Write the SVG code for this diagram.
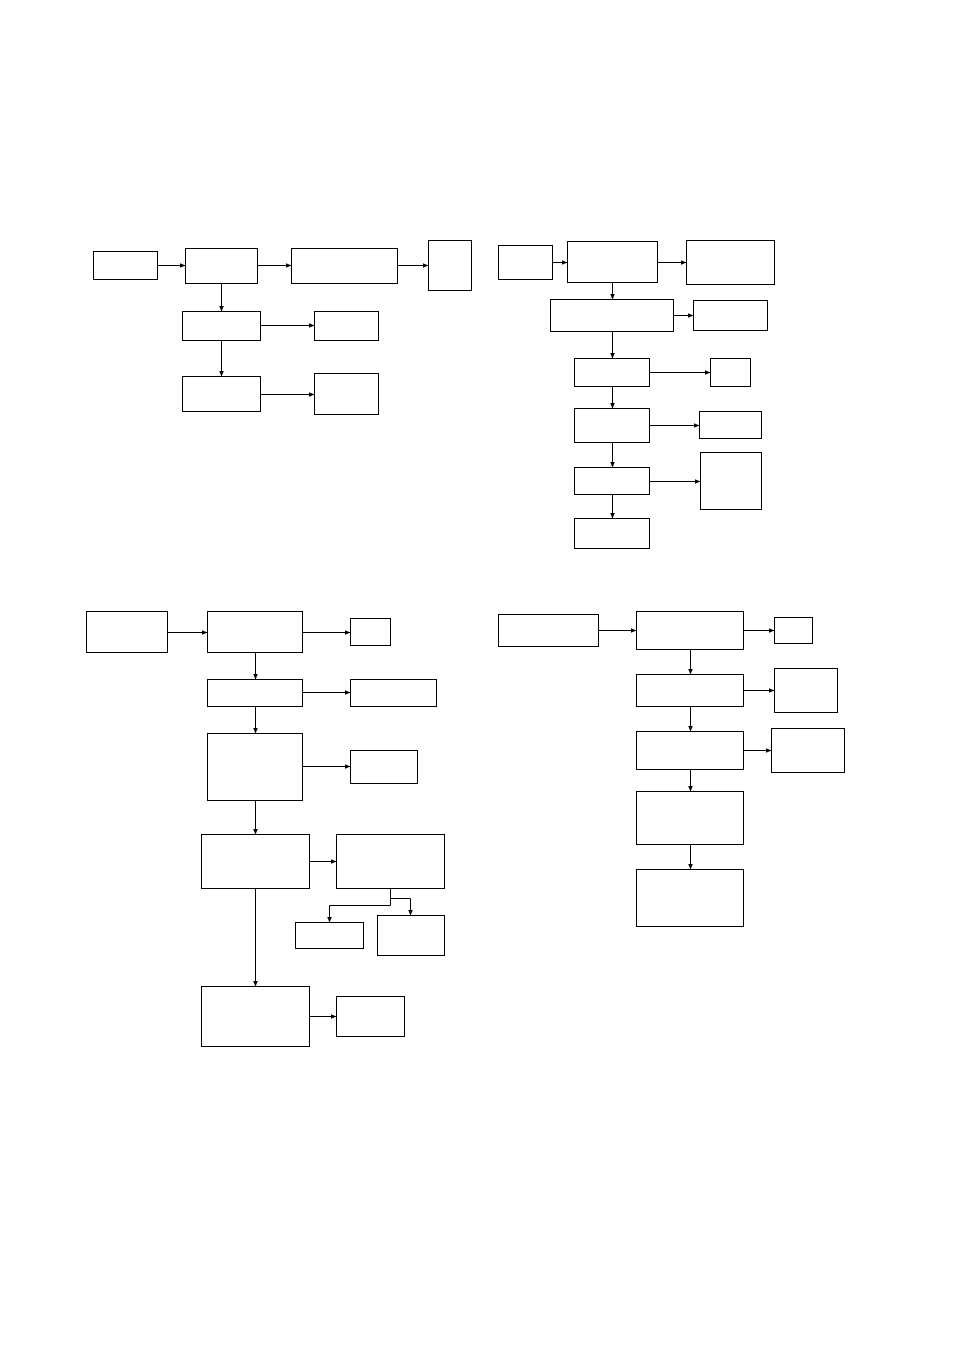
<svg xmlns="http://www.w3.org/2000/svg" width="954" height="1351" viewBox="0 0 954 1351">
<style>
.box{fill:#fff;stroke:#000;stroke-width:1}
.edge{fill:none;stroke:#000;stroke-width:1;marker-end:url(#ah)}
.seg{fill:none;stroke:#000;stroke-width:1}
</style>
<defs>
<marker id="ah" markerUnits="userSpaceOnUse" markerWidth="7" markerHeight="6" refX="6" refY="2.5" orient="auto">
<path d="M0,0 L6,2.5 L0,5 z" fill="#000"/>
</marker>
</defs>
<rect width="954" height="1351" fill="#fff"/>
<g id="connectors">
<!-- diagram 1 -->
<path class="edge" d="M157.5,265.5 H185.5"/>
<path class="edge" d="M257.5,265.5 H291.5"/>
<path class="edge" d="M397.5,265.5 H428.5"/>
<path class="edge" d="M221.5,283.5 V311.5"/>
<path class="edge" d="M260.5,325.5 H314.5"/>
<path class="edge" d="M221.5,340.5 V376.5"/>
<path class="edge" d="M260.5,394.5 H314.5"/>
<!-- diagram 2 -->
<path class="edge" d="M552.5,262.5 H567.5"/>
<path class="edge" d="M657.5,262.5 H686.5"/>
<path class="edge" d="M612.5,282.5 V299.5"/>
<path class="edge" d="M673.5,315.5 H693.5"/>
<path class="edge" d="M612.5,331.5 V358.5"/>
<path class="edge" d="M649.5,372.5 H710.5"/>
<path class="edge" d="M612.5,386.5 V408.5"/>
<path class="edge" d="M649.5,425.5 H699.5"/>
<path class="edge" d="M612.5,442.5 V467.5"/>
<path class="edge" d="M649.5,481.5 H700.5"/>
<path class="edge" d="M612.5,494.5 V518.5"/>
<!-- diagram 3 -->
<path class="edge" d="M167.5,632.5 H207.5"/>
<path class="edge" d="M302.5,632.5 H350.5"/>
<path class="edge" d="M255.5,652.5 V679.5"/>
<path class="edge" d="M302.5,692.5 H350.5"/>
<path class="edge" d="M255.5,706.5 V733.5"/>
<path class="edge" d="M302.5,766.5 H350.5"/>
<path class="edge" d="M255.5,800.5 V834.5"/>
<path class="edge" d="M309.5,861.5 H336.5"/>
<path class="edge" d="M255.5,888.5 V986.5"/>
<path class="edge" d="M309.5,1016.5 H336.5"/>
<path class="edge" d="M390.5,888.5 V905.5 H329.5 V922.5"/>
<path class="edge" d="M390.5,898.5 H410.5 V915.5"/>
<!-- diagram 4 -->
<path class="edge" d="M598.5,630.5 H636.5"/>
<path class="edge" d="M743.5,630.5 H774.5"/>
<path class="edge" d="M690.5,649.5 V674.5"/>
<path class="edge" d="M743.5,690.5 H774.5"/>
<path class="edge" d="M690.5,706.5 V731.5"/>
<path class="edge" d="M743.5,750.5 H771.5"/>
<path class="edge" d="M690.5,769.5 V791.5"/>
<path class="edge" d="M690.5,844.5 V869.5"/>
</g>
<!-- diagram 1 nodes -->
<g id="n1a"><rect class="box" x="93.5" y="251.5" width="64" height="28"/></g>
<g id="n1b"><rect class="box" x="185.5" y="248.5" width="72" height="35"/></g>
<g id="n1c"><rect class="box" x="291.5" y="248.5" width="106" height="35"/></g>
<g id="n1d"><rect class="box" x="428.5" y="240.5" width="43" height="50"/></g>
<g id="n1e"><rect class="box" x="182.5" y="311.5" width="78" height="29"/></g>
<g id="n1f"><rect class="box" x="314.5" y="311.5" width="64" height="29"/></g>
<g id="n1g"><rect class="box" x="182.5" y="376.5" width="78" height="35"/></g>
<g id="n1h"><rect class="box" x="314.5" y="373.5" width="64" height="41"/></g>
<!-- diagram 2 nodes -->
<g id="n2a"><rect class="box" x="498.5" y="245.5" width="54" height="34"/></g>
<g id="n2b"><rect class="box" x="567.5" y="241.5" width="90" height="41"/></g>
<g id="n2c"><rect class="box" x="686.5" y="240.5" width="88" height="44"/></g>
<g id="n2d"><rect class="box" x="550.5" y="299.5" width="123" height="32"/></g>
<g id="n2e"><rect class="box" x="693.5" y="300.5" width="74" height="30"/></g>
<g id="n2f"><rect class="box" x="574.5" y="358.5" width="75" height="28"/></g>
<g id="n2g"><rect class="box" x="710.5" y="358.5" width="40" height="28"/></g>
<g id="n2h"><rect class="box" x="574.5" y="408.5" width="75" height="34"/></g>
<g id="n2i"><rect class="box" x="699.5" y="411.5" width="62" height="27"/></g>
<g id="n2j"><rect class="box" x="574.5" y="467.5" width="75" height="27"/></g>
<g id="n2k"><rect class="box" x="700.5" y="452.5" width="61" height="57"/></g>
<g id="n2l"><rect class="box" x="574.5" y="518.5" width="75" height="30"/></g>
<!-- diagram 3 nodes -->
<g id="n3a"><rect class="box" x="86.5" y="611.5" width="81" height="41"/></g>
<g id="n3b"><rect class="box" x="207.5" y="611.5" width="95" height="41"/></g>
<g id="n3c"><rect class="box" x="350.5" y="618.5" width="40" height="27"/></g>
<g id="n3d"><rect class="box" x="207.5" y="679.5" width="95" height="27"/></g>
<g id="n3e"><rect class="box" x="350.5" y="679.5" width="86" height="27"/></g>
<g id="n3f"><rect class="box" x="207.5" y="733.5" width="95" height="67"/></g>
<g id="n3g"><rect class="box" x="350.5" y="750.5" width="67" height="33"/></g>
<g id="n3h"><rect class="box" x="201.5" y="834.5" width="108" height="54"/></g>
<g id="n3i"><rect class="box" x="336.5" y="834.5" width="108" height="54"/></g>
<g id="n3j"><rect class="box" x="295.5" y="922.5" width="68" height="26"/></g>
<g id="n3k"><rect class="box" x="377.5" y="915.5" width="67" height="40"/></g>
<g id="n3l"><rect class="box" x="201.5" y="986.5" width="108" height="60"/></g>
<g id="n3m"><rect class="box" x="336.5" y="996.5" width="68" height="40"/></g>
<!-- diagram 4 nodes -->
<g id="n4a"><rect class="box" x="498.5" y="614.5" width="100" height="32"/></g>
<g id="n4b"><rect class="box" x="636.5" y="611.5" width="107" height="38"/></g>
<g id="n4c"><rect class="box" x="774.5" y="617.5" width="38" height="26"/></g>
<g id="n4d"><rect class="box" x="636.5" y="674.5" width="107" height="32"/></g>
<g id="n4e"><rect class="box" x="774.5" y="668.5" width="63" height="44"/></g>
<g id="n4f"><rect class="box" x="636.5" y="731.5" width="107" height="38"/></g>
<g id="n4g"><rect class="box" x="771.5" y="728.5" width="73" height="44"/></g>
<g id="n4h"><rect class="box" x="636.5" y="791.5" width="107" height="53"/></g>
<g id="n4i"><rect class="box" x="636.5" y="869.5" width="107" height="57"/></g>
</svg>
